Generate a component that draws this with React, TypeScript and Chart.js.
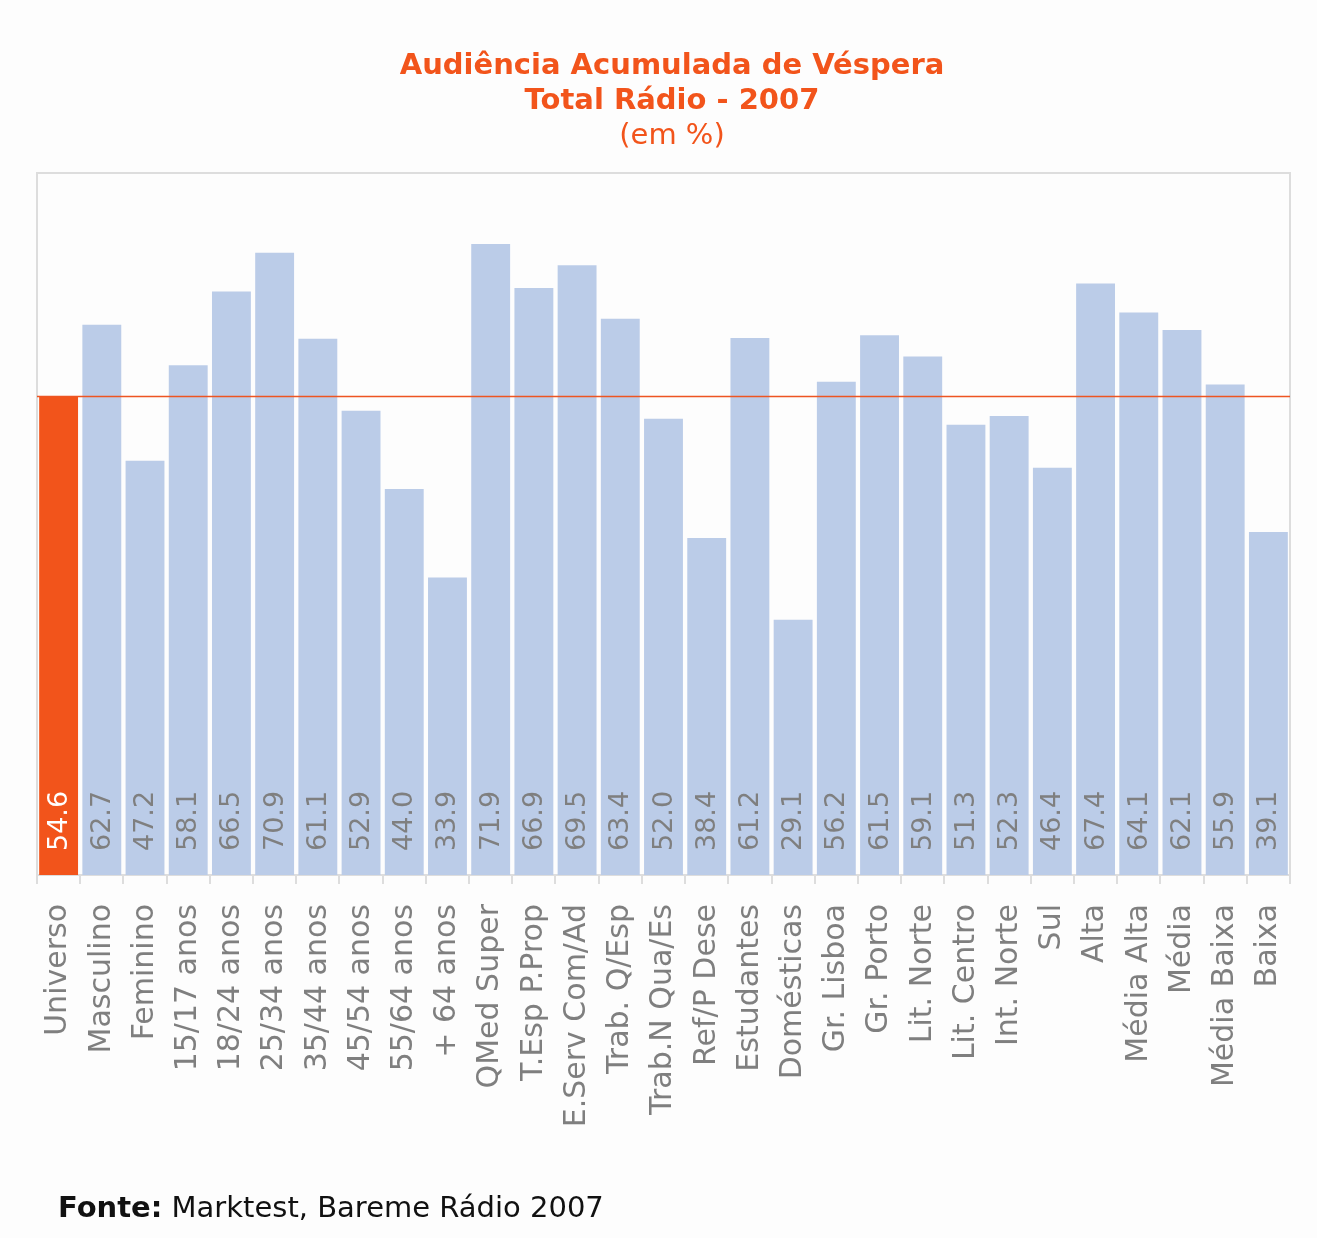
import React, { useEffect, useRef } from "react";
import { Chart, registerables } from "chart.js";

Chart.register(...registerables);

const categories = [
  "Universo", "Masculino", "Feminino", "15/17 anos", "18/24 anos", "25/34 anos",
  "35/44 anos", "45/54 anos", "55/64 anos", "+ 64 anos", "QMed Super", "T.Esp P.Prop",
  "E.Serv Com/Ad", "Trab. Q/Esp", "Trab.N Qua/Es", "Ref/P Dese", "Estudantes",
  "Domésticas", "Gr. Lisboa", "Gr. Porto", "Lit. Norte", "Lit. Centro", "Int. Norte",
  "Sul", "Alta", "Média Alta", "Média", "Média Baixa", "Baixa",
];

const values = [
  54.6, 62.7, 47.2, 58.1, 66.5, 70.9, 61.1, 52.9, 44.0, 33.9, 71.9, 66.9, 69.5,
  63.4, 52.0, 38.4, 61.2, 29.1, 56.2, 61.5, 59.1, 51.3, 52.3, 46.4, 67.4, 64.1,
  62.1, 55.9, 39.1,
];

const referenceValue = 54.6;

const titleLines = ["Audiência Acumulada de Véspera", "Total Rádio - 2007", "(em %)"];
const sourceBold = "Fonte:";
const sourceText = " Marktest, Bareme Rádio 2007";

const ORANGE = "#F2541B";
const BLUE = "#BBCCE8";
const GRAY = "#7F7F7F";
const BORDER = "#DDDDDD";

export default function App() {
  const ref = useRef<HTMLCanvasElement | null>(null);

  useEffect(() => {
    const canvas = ref.current;
    if (!canvas) return;

    const overlay = {
      id: "overlay",
      afterDatasetsDraw(chart: any) {
        const ctx = chart.ctx;
        const area = chart.chartArea;
        const y = chart.scales.y;
        ctx.save();
        ctx.strokeStyle = BORDER;
        ctx.lineWidth = 2;
        ctx.beginPath();
        ctx.moveTo(area.left, area.bottom);
        ctx.lineTo(area.left, area.top);
        ctx.lineTo(area.right, area.top);
        ctx.lineTo(area.right, area.bottom);
        ctx.stroke();
        const ry = Math.round(y.getPixelForValue(referenceValue)) + 0.5;
        ctx.strokeStyle = "#EE5522";
        ctx.lineWidth = 1.5;
        ctx.beginPath();
        ctx.moveTo(area.left, ry);
        ctx.lineTo(area.right, ry);
        ctx.stroke();
        const meta = chart.getDatasetMeta(0);
        ctx.font = "27px 'DejaVu Sans'";
        ctx.textAlign = "left";
        ctx.textBaseline = "middle";
        meta.data.forEach((bar: any, i: number) => {
          ctx.save();
          ctx.translate(bar.x + 1, area.bottom - 24);
          ctx.rotate(-Math.PI / 2);
          ctx.fillStyle = i === 0 ? "#FFFFFF" : GRAY;
          ctx.fillText(values[i].toFixed(1), 0, 0);
          ctx.restore();
        });
        ctx.restore();
      },
    };

    const chart = new Chart(canvas, {
      type: "bar",
      data: {
        labels: categories,
        datasets: [
          {
            data: values,
            backgroundColor: values.map((_, i) => (i === 0 ? ORANGE : BLUE)),
            borderWidth: 0,
            barPercentage: 0.9,
            categoryPercentage: 1.0,
          },
        ],
      },
      options: {
        responsive: false,
        animation: false,
        layout: { padding: { left: 37, right: 27, top: 173, bottom: 0 } },
        plugins: {
          legend: { display: false },
          tooltip: { enabled: false },
          title: { display: false },
        },
        scales: {
          y: {
            display: false,
            min: 0,
            max: 80,
          },
          x: {
            afterFit: (scale: any) => {
              scale.height = 363;
              scale.paddingLeft = 0;
              scale.paddingRight = 0;
            },
            grid: {
              offset: true,
              drawOnChartArea: false,
              drawTicks: true,
              tickLength: 9,
              color: BORDER,
              lineWidth: 2,
            },
            border: { display: true, color: BORDER, width: 2 },
            ticks: {
              minRotation: 90,
              maxRotation: 90,
              autoSkip: false,
              padding: 20,
              color: GRAY,
              font: { family: "'DejaVu Sans'", size: 30 },
            },
          },
        },
      },
      plugins: [overlay],
    });

    return () => chart.destroy();
  }, []);

  const titleStyle: React.CSSProperties = {
    position: "absolute",
    left: 672,
    transform: "translateX(-50%)",
    whiteSpace: "nowrap",
    color: ORANGE,
    fontFamily: "'DejaVu Sans', sans-serif",
    fontSize: 29,
    lineHeight: "35px",
  };

  return (
    <div style={{ position: "absolute", left: 0, top: 0, width: 1317, height: 1238, background: "#FDFDFD" }}>
      <canvas ref={ref} width={1317} height={1238} style={{ position: "absolute", left: 0, top: 0 }} />
      <div style={{ ...titleStyle, top: 47, fontWeight: "bold" }}>{titleLines[0]}</div>
      <div style={{ ...titleStyle, top: 82, fontWeight: "bold" }}>{titleLines[1]}</div>
      <div style={{ ...titleStyle, top: 117 }}>{titleLines[2]}</div>
      <div
        style={{
          position: "absolute",
          left: 58,
          top: 1190,
          whiteSpace: "nowrap",
          color: "#111111",
          fontFamily: "'DejaVu Sans', sans-serif",
          fontSize: 29,
          lineHeight: "35px",
        }}
      >
        <b>{sourceBold}</b>
        {sourceText}
      </div>
    </div>
  );
}
